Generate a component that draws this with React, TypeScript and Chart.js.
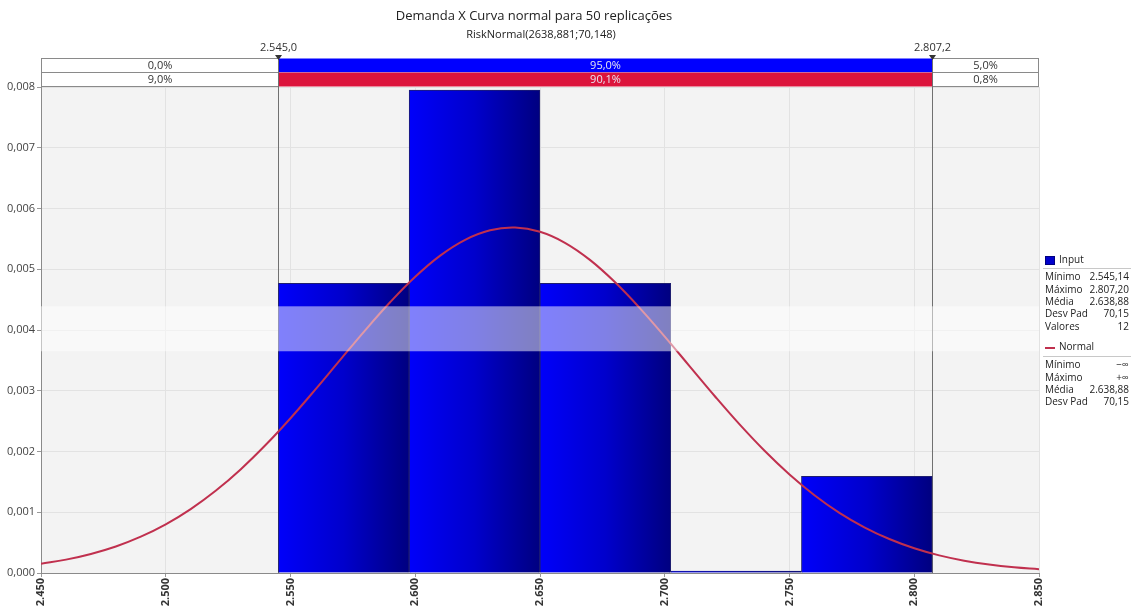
import React, { useEffect, useRef } from 'react';
import { Chart, registerables } from 'chart.js';

Chart.register(...registerables);

const chartTitle = 'Demanda X Curva normal para 50 replicações';
const chartSubtitle = 'RiskNormal(2638,881;70,148)';

// histogram (density) – 5 bins between 2.545,14 and 2.807,20
const binCenters = [2571.35, 2623.76, 2676.17, 2728.58, 2780.99];
const binDensity = [0.00477, 0.00795, 0.00477, 0, 0.00159];

// fitted normal curve
const curveX = [
  2450, 2460, 2470, 2480, 2490, 2500, 2510, 2520, 2530, 2540,
  2550, 2560, 2570, 2580, 2590, 2600, 2610, 2620, 2630, 2640,
  2650, 2660, 2670, 2680, 2690, 2700, 2710, 2720, 2730, 2740,
  2750, 2760, 2770, 2780, 2790, 2800, 2810, 2820, 2830, 2840, 2850,
];
const curveY = [
  0.000152, 0.00022, 0.000314, 0.000437, 0.000598, 0.000801, 0.001052, 0.001353, 0.001705, 0.002106,
  0.002548, 0.003022, 0.003512, 0.003999, 0.004461, 0.004877, 0.005225, 0.005485, 0.005642, 0.005686,
  0.005616, 0.005435, 0.005154, 0.004789, 0.004361, 0.003891, 0.003402, 0.002914, 0.002446, 0.002012,
  0.001622, 0.001281, 0.000991, 0.000752, 0.000559, 0.000407, 0.00029, 0.000203, 0.000139, 0.000093, 0.000061,
];

const markerValues = [2545.0, 2807.2];
const markerLabels = ['2.545,0', '2.807,2'];
const inputRow = ['0,0%', '95,0%', '5,0%'];
const normalRow = ['9,0%', '90,1%', '0,8%'];

const inputStatsLabels = ['Mínimo', 'Máximo', 'Média', 'Desv Pad', 'Valores'];
const inputStatsValues = ['2.545,14', '2.807,20', '2.638,88', '70,15', '12'];
const normalStatsLabels = ['Mínimo', 'Máximo', 'Média', 'Desv Pad'];
const normalStatsValues = ['−∞', '+∞', '2.638,88', '70,15'];

const xMin = 2450;
const xMax = 2850;
const xStep = 50;
const yMin = 0;
const yMax = 0.008;
const yStep = 0.001;
const bandRange = [0.00365, 0.00439];

const FONT = '"Open Sans", "DejaVu Sans", sans-serif';

const fmtX = (v: number) => {
  const s = String(Math.round(v));
  return s.length > 3 ? s.slice(0, -3) + '.' + s.slice(-3) : s;
};
const fmtY = (v: number) => Number(v).toFixed(3).replace('.', ',');

const decor = {
  id: 'decor',
  beforeDraw(chart: any) {
    const { ctx, chartArea: a } = chart;
    ctx.save();
    ctx.fillStyle = '#ffffff';
    ctx.fillRect(0, 0, chart.width, chart.height);
    ctx.fillStyle = '#f3f3f3';
    ctx.fillRect(a.left, a.top, a.right - a.left, a.bottom - a.top);
    ctx.restore();
  },
  beforeDatasetsDraw(chart: any) {
    const { ctx, chartArea: a, scales } = chart;
    ctx.save();
    ctx.strokeStyle = '#707070';
    ctx.lineWidth = 1;
    markerValues.forEach((v) => {
      const px = Math.round(scales.x.getPixelForValue(v)) + 0.5;
      ctx.beginPath();
      ctx.moveTo(px, a.top);
      ctx.lineTo(px, a.bottom);
      ctx.stroke();
    });
    ctx.restore();
  },
  afterDatasetsDraw(chart: any) {
    const { ctx, chartArea: a, scales } = chart;
    const xs = scales.x;
    const ys = scales.y;
    ctx.save();

    // translucent white band
    const by0 = ys.getPixelForValue(bandRange[1]);
    const by1 = ys.getPixelForValue(bandRange[0]);
    ctx.fillStyle = 'rgba(255,255,255,0.5)';
    ctx.fillRect(a.left, by0, a.right - a.left, by1 - by0);

    // title & subtitle
    ctx.fillStyle = '#222';
    ctx.textAlign = 'center';
    ctx.textBaseline = 'middle';
    ctx.font = '13px ' + FONT;
    ctx.fillText(chartTitle, 534, 16);
    ctx.font = '11px ' + FONT;
    ctx.fillText(chartSubtitle, 541, 35);

    // percentage rows
    const m0 = Math.round(xs.getPixelForValue(markerValues[0])) + 0.5;
    const m1 = Math.round(xs.getPixelForValue(markerValues[1])) + 0.5;
    const L = a.left + 0.5;
    const R = a.right - 0.5;
    const rowTops = [58.5, 72.5];
    const rowH = 14;
    const rows = [inputRow, normalRow];
    const mids = ['#0000ff', '#dc143c'];
    rows.forEach((row, r) => {
      const t = rowTops[r];
      ctx.fillStyle = '#ffffff';
      ctx.fillRect(L, t, R - L, rowH);
      ctx.fillStyle = mids[r];
      ctx.fillRect(m0, t, m1 - m0, rowH);
      ctx.strokeStyle = '#8a8a8a';
      ctx.lineWidth = 1;
      ctx.strokeRect(L, t, m0 - L, rowH);
      ctx.strokeRect(m1, t, R - m1, rowH);
      ctx.font = '11px ' + FONT;
      ctx.textAlign = 'center';
      ctx.textBaseline = 'middle';
      ctx.fillStyle = '#333';
      ctx.fillText(row[0], (L + m0) / 2, t + rowH / 2 + 0.5);
      ctx.fillText(row[2], (m1 + R) / 2, t + rowH / 2 + 0.5);
      ctx.fillStyle = '#e6e6f0';
      ctx.fillText(row[1], (m0 + m1) / 2, t + rowH / 2 + 0.5);
    });

    // markers
    markerValues.forEach((v, i) => {
      const px = Math.round(xs.getPixelForValue(v)) + 0.5;
      ctx.strokeStyle = '#707070';
      ctx.beginPath();
      ctx.moveTo(px, 56);
      ctx.lineTo(px, a.top);
      ctx.stroke();
      ctx.fillStyle = '#333';
      ctx.beginPath();
      ctx.moveTo(px - 3.5, 55);
      ctx.lineTo(px + 3.5, 55);
      ctx.lineTo(px, 60);
      ctx.closePath();
      ctx.fill();
      ctx.font = '11px ' + FONT;
      ctx.textAlign = 'center';
      ctx.textBaseline = 'middle';
      ctx.fillText(markerLabels[i], px, 48);
    });

    // legend
    const lx = a.right + 6;
    const rx = chart.width - 5;
    ctx.font = '10px ' + FONT;
    ctx.textBaseline = 'middle';
    ctx.fillStyle = '#0000cc';
    ctx.fillRect(lx, 256, 10, 9);
    ctx.strokeStyle = '#000080';
    ctx.strokeRect(lx + 0.5, 256.5, 9, 8);
    ctx.fillStyle = '#222';
    ctx.textAlign = 'left';
    ctx.fillText('Input', lx + 14, 260.5);
    ctx.strokeStyle = '#c8c8c8';
    ctx.beginPath();
    ctx.moveTo(lx - 2, 268.5);
    ctx.lineTo(rx + 2, 268.5);
    ctx.stroke();
    inputStatsLabels.forEach((lab, i) => {
      const y = 277.5 + i * 12.3;
      ctx.textAlign = 'left';
      ctx.fillText(lab, lx, y);
      ctx.textAlign = 'right';
      ctx.fillText(inputStatsValues[i], rx, y);
    });
    ctx.strokeStyle = '#c0304e';
    ctx.lineWidth = 2;
    ctx.beginPath();
    ctx.moveTo(lx, 348);
    ctx.lineTo(lx + 10, 348);
    ctx.stroke();
    ctx.lineWidth = 1;
    ctx.textAlign = 'left';
    ctx.fillText('Normal', lx + 14, 347.5);
    ctx.strokeStyle = '#c8c8c8';
    ctx.beginPath();
    ctx.moveTo(lx - 2, 356.5);
    ctx.lineTo(rx + 2, 356.5);
    ctx.stroke();
    normalStatsLabels.forEach((lab, i) => {
      const y = 365.5 + i * 12.3;
      ctx.textAlign = 'left';
      ctx.fillText(lab, lx, y);
      ctx.textAlign = 'right';
      ctx.fillText(normalStatsValues[i], rx, y);
    });

    ctx.restore();
  },
};

export default function App() {
  const ref = useRef<HTMLCanvasElement | null>(null);

  useEffect(() => {
    if (!ref.current) return;
    const binStep = binCenters[1] - binCenters[0];
    const barColor = (c: any) => {
      const chart = c.chart;
      if (!chart.chartArea || c.dataIndex === undefined) return '#0000cc';
      const xs = chart.scales.xb;
      const center = binCenters[c.dataIndex];
      const x0 = xs.getPixelForValue(center - binStep / 2);
      const x1 = xs.getPixelForValue(center + binStep / 2);
      const g = chart.ctx.createLinearGradient(x0, 0, x1, 0);
      g.addColorStop(0, '#0000fa');
      g.addColorStop(0.5, '#0000cc');
      g.addColorStop(1, '#000080');
      return g;
    };

    const chart = new Chart(ref.current, {
      type: 'bar',
      data: {
        datasets: [
          {
            type: 'line',
            label: 'Normal',
            data: curveX.map((x, i) => ({ x, y: curveY[i] })),
            xAxisID: 'xb',
            yAxisID: 'y',
            borderColor: '#c0304e',
            borderWidth: 2,
            pointRadius: 0,
            tension: 0.4,
            fill: false,
            order: 0,
          } as any,
          {
            type: 'bar',
            label: 'Input',
            data: binCenters.map((x, i) => ({ x, y: binDensity[i] })),
            xAxisID: 'xb',
            yAxisID: 'y',
            backgroundColor: barColor,
            borderColor: '#1e1e70',
            borderWidth: 1,
            borderSkipped: 'start',
            barPercentage: 1,
            categoryPercentage: 1,
            minBarLength: 2,
            order: 1,
          } as any,
        ],
      },
      options: {
        responsive: false,
        animation: false,
        events: [],
        layout: { padding: { top: 87, right: 95, left: 0, bottom: 0 } },
        plugins: {
          legend: { display: false },
          title: { display: false },
          tooltip: { enabled: false },
        },
        scales: {
          x: {
            type: 'linear',
            axis: 'x',
            position: 'bottom',
            min: xMin,
            max: xMax,
            offset: false,
            grid: { offset: false, color: '#e2e2e2', drawTicks: true, tickLength: 4, tickColor: '#999' },
            border: { color: '#8a8a8a' },
            ticks: {
              stepSize: xStep,
              autoSkip: false,
              minRotation: 90,
              maxRotation: 90,
              padding: 1,
              color: '#333',
              font: { family: FONT, size: 11, weight: 'bold' },
              callback: (v: any) => fmtX(Number(v)),
            },
            afterFit: (s: any) => {
              s.height = 35;
            },
          },
          xb: {
            type: 'linear',
            axis: 'x',
            position: 'bottom',
            display: false,
            min: xMin,
            max: xMax,
            offset: false,
            grid: { offset: false, display: false },
            afterBuildTicks: (s: any) => {
              s.ticks = [];
            },
          },
          y: {
            type: 'linear',
            min: yMin,
            max: yMax,
            grid: { color: '#e2e2e2', drawTicks: true, tickLength: 4, tickColor: '#999' },
            border: { color: '#8a8a8a' },
            ticks: {
              stepSize: yStep,
              padding: 2,
              color: '#444',
              font: { family: FONT, size: 11 },
              callback: (v: any) => fmtY(Number(v)),
            },
            afterFit: (s: any) => {
              s.width = 41;
            },
          },
        },
      } as any,
      plugins: [decor],
    });
    return () => chart.destroy();
  }, []);

  return (
    <div style={{ position: 'fixed', left: 0, top: 0, width: 1134, height: 608, background: '#fff' }}>
      <canvas ref={ref} width={1134} height={608} style={{ width: 1134, height: 608, display: 'block' }} />
    </div>
  );
}
